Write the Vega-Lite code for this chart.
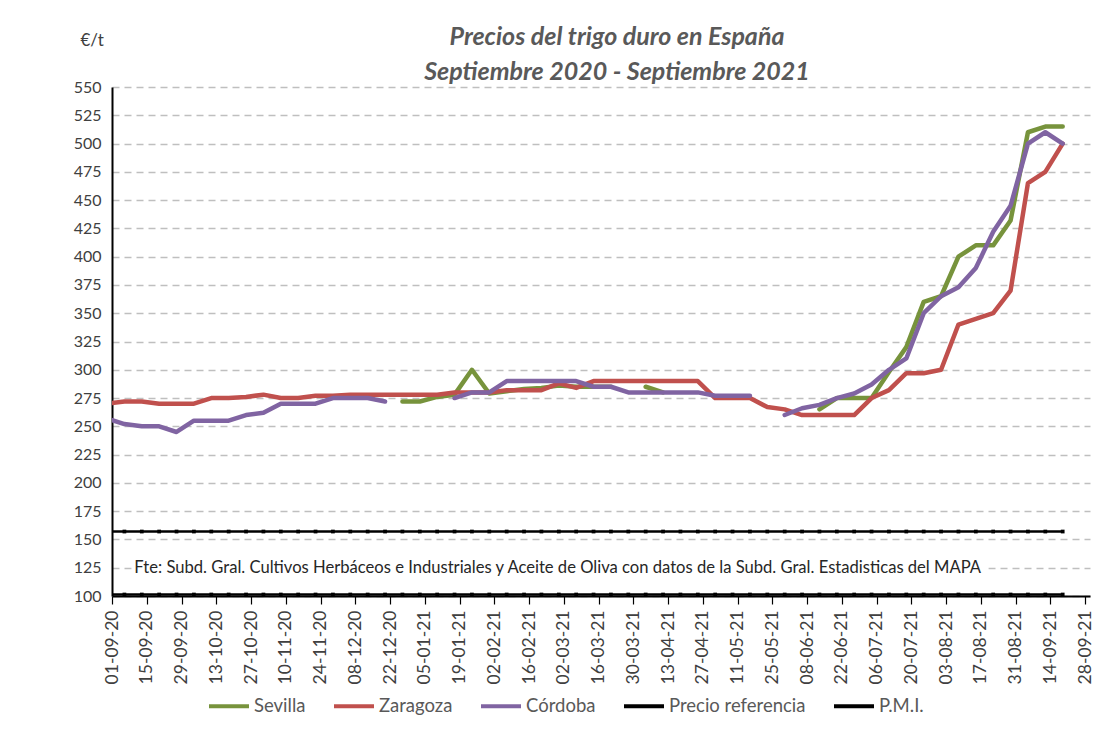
{
  "$schema": "https://vega.github.io/schema/vega-lite/v6.json",
  "autosize": "none",
  "width": 978,
  "height": 509,
  "padding": {"left": 112, "top": 87, "right": 24, "bottom": 134},
  "background": "white",
  "config": {"font": "Lato", "view": {"stroke": null}, "axis": {"labelOverlap": false, "labelSeparation": 0}, "axisX": {"labelOverlap": false}, "axisY": {"labelOverlap": false}},
  "title": {
    "text": ["Precios del trigo duro en España", "Septiembre 2020 - Septiembre 2021"],
    "fontSize": 25, "fontStyle": "italic", "fontWeight": "bold", "color": "#595959",
    "lineHeight": 35, "offset": -54, "dx": 16, "anchor": "middle", "font": "Lato"
  },
  "data": {"values": [
    {"fecha":"2020-08-30","Sevilla":null,"Zaragoza":270,"Córdoba":257,"Precio referencia":101.31,"PMI":157},
    {"fecha":"2020-09-06","Sevilla":null,"Zaragoza":272,"Córdoba":252,"Precio referencia":101.31,"PMI":157},
    {"fecha":"2020-09-13","Sevilla":null,"Zaragoza":272,"Córdoba":250,"Precio referencia":101.31,"PMI":157},
    {"fecha":"2020-09-20","Sevilla":null,"Zaragoza":270,"Córdoba":250,"Precio referencia":101.31,"PMI":157},
    {"fecha":"2020-09-27","Sevilla":null,"Zaragoza":270,"Córdoba":245,"Precio referencia":101.31,"PMI":157},
    {"fecha":"2020-10-04","Sevilla":null,"Zaragoza":270,"Córdoba":255,"Precio referencia":101.31,"PMI":157},
    {"fecha":"2020-10-11","Sevilla":null,"Zaragoza":275,"Córdoba":255,"Precio referencia":101.31,"PMI":157},
    {"fecha":"2020-10-18","Sevilla":null,"Zaragoza":275,"Córdoba":255,"Precio referencia":101.31,"PMI":157},
    {"fecha":"2020-10-25","Sevilla":null,"Zaragoza":276,"Córdoba":260,"Precio referencia":101.31,"PMI":157},
    {"fecha":"2020-11-01","Sevilla":null,"Zaragoza":278,"Córdoba":262,"Precio referencia":101.31,"PMI":157},
    {"fecha":"2020-11-08","Sevilla":null,"Zaragoza":275,"Córdoba":270,"Precio referencia":101.31,"PMI":157},
    {"fecha":"2020-11-15","Sevilla":null,"Zaragoza":275,"Córdoba":270,"Precio referencia":101.31,"PMI":157},
    {"fecha":"2020-11-22","Sevilla":null,"Zaragoza":277,"Córdoba":270,"Precio referencia":101.31,"PMI":157},
    {"fecha":"2020-11-29","Sevilla":null,"Zaragoza":277,"Córdoba":275,"Precio referencia":101.31,"PMI":157},
    {"fecha":"2020-12-06","Sevilla":null,"Zaragoza":278,"Córdoba":275,"Precio referencia":101.31,"PMI":157},
    {"fecha":"2020-12-13","Sevilla":null,"Zaragoza":278,"Córdoba":275,"Precio referencia":101.31,"PMI":157},
    {"fecha":"2020-12-20","Sevilla":null,"Zaragoza":278,"Córdoba":272,"Precio referencia":101.31,"PMI":157},
    {"fecha":"2020-12-27","Sevilla":272,"Zaragoza":278,"Córdoba":null,"Precio referencia":101.31,"PMI":157},
    {"fecha":"2021-01-03","Sevilla":272,"Zaragoza":278,"Córdoba":null,"Precio referencia":101.31,"PMI":157},
    {"fecha":"2021-01-10","Sevilla":276,"Zaragoza":278,"Córdoba":null,"Precio referencia":101.31,"PMI":157},
    {"fecha":"2021-01-17","Sevilla":278,"Zaragoza":280,"Córdoba":275,"Precio referencia":101.31,"PMI":157},
    {"fecha":"2021-01-24","Sevilla":300,"Zaragoza":280,"Córdoba":280,"Precio referencia":101.31,"PMI":157},
    {"fecha":"2021-01-31","Sevilla":279,"Zaragoza":280,"Córdoba":280,"Precio referencia":101.31,"PMI":157},
    {"fecha":"2021-02-07","Sevilla":281,"Zaragoza":282,"Córdoba":290,"Precio referencia":101.31,"PMI":157},
    {"fecha":"2021-02-14","Sevilla":283,"Zaragoza":282,"Córdoba":290,"Precio referencia":101.31,"PMI":157},
    {"fecha":"2021-02-21","Sevilla":284,"Zaragoza":282,"Córdoba":290,"Precio referencia":101.31,"PMI":157},
    {"fecha":"2021-02-28","Sevilla":286,"Zaragoza":288,"Córdoba":290,"Precio referencia":101.31,"PMI":157},
    {"fecha":"2021-03-07","Sevilla":285,"Zaragoza":284,"Córdoba":290,"Precio referencia":101.31,"PMI":157},
    {"fecha":"2021-03-14","Sevilla":285,"Zaragoza":290,"Córdoba":285,"Precio referencia":101.31,"PMI":157},
    {"fecha":"2021-03-21","Sevilla":285,"Zaragoza":290,"Córdoba":285,"Precio referencia":101.31,"PMI":157},
    {"fecha":"2021-03-28","Sevilla":null,"Zaragoza":290,"Córdoba":280,"Precio referencia":101.31,"PMI":157},
    {"fecha":"2021-04-04","Sevilla":285,"Zaragoza":290,"Córdoba":280,"Precio referencia":101.31,"PMI":157},
    {"fecha":"2021-04-11","Sevilla":280,"Zaragoza":290,"Córdoba":280,"Precio referencia":101.31,"PMI":157},
    {"fecha":"2021-04-18","Sevilla":null,"Zaragoza":290,"Córdoba":280,"Precio referencia":101.31,"PMI":157},
    {"fecha":"2021-04-25","Sevilla":null,"Zaragoza":290,"Córdoba":280,"Precio referencia":101.31,"PMI":157},
    {"fecha":"2021-05-02","Sevilla":null,"Zaragoza":275,"Córdoba":277,"Precio referencia":101.31,"PMI":157},
    {"fecha":"2021-05-09","Sevilla":null,"Zaragoza":275,"Córdoba":277,"Precio referencia":101.31,"PMI":157},
    {"fecha":"2021-05-16","Sevilla":null,"Zaragoza":275,"Córdoba":277,"Precio referencia":101.31,"PMI":157},
    {"fecha":"2021-05-23","Sevilla":null,"Zaragoza":267,"Córdoba":null,"Precio referencia":101.31,"PMI":157},
    {"fecha":"2021-05-30","Sevilla":null,"Zaragoza":265,"Córdoba":260,"Precio referencia":101.31,"PMI":157},
    {"fecha":"2021-06-06","Sevilla":null,"Zaragoza":260,"Córdoba":266,"Precio referencia":101.31,"PMI":157},
    {"fecha":"2021-06-13","Sevilla":265,"Zaragoza":260,"Córdoba":269,"Precio referencia":101.31,"PMI":157},
    {"fecha":"2021-06-20","Sevilla":275,"Zaragoza":260,"Córdoba":275,"Precio referencia":101.31,"PMI":157},
    {"fecha":"2021-06-27","Sevilla":275,"Zaragoza":260,"Córdoba":279,"Precio referencia":101.31,"PMI":157},
    {"fecha":"2021-07-04","Sevilla":275,"Zaragoza":275,"Córdoba":287,"Precio referencia":101.31,"PMI":157},
    {"fecha":"2021-07-11","Sevilla":298,"Zaragoza":282,"Córdoba":300,"Precio referencia":101.31,"PMI":157},
    {"fecha":"2021-07-18","Sevilla":320,"Zaragoza":297,"Córdoba":310,"Precio referencia":101.31,"PMI":157},
    {"fecha":"2021-07-25","Sevilla":360,"Zaragoza":297,"Córdoba":350,"Precio referencia":101.31,"PMI":157},
    {"fecha":"2021-08-01","Sevilla":365,"Zaragoza":300,"Córdoba":365,"Precio referencia":101.31,"PMI":157},
    {"fecha":"2021-08-08","Sevilla":400,"Zaragoza":340,"Córdoba":373,"Precio referencia":101.31,"PMI":157},
    {"fecha":"2021-08-15","Sevilla":410,"Zaragoza":345,"Córdoba":390,"Precio referencia":101.31,"PMI":157},
    {"fecha":"2021-08-22","Sevilla":410,"Zaragoza":350,"Córdoba":422,"Precio referencia":101.31,"PMI":157},
    {"fecha":"2021-08-29","Sevilla":432,"Zaragoza":370,"Córdoba":445,"Precio referencia":101.31,"PMI":157},
    {"fecha":"2021-09-05","Sevilla":510,"Zaragoza":465,"Córdoba":500,"Precio referencia":101.31,"PMI":157},
    {"fecha":"2021-09-12","Sevilla":515,"Zaragoza":475,"Córdoba":510,"Precio referencia":101.31,"PMI":157},
    {"fecha":"2021-09-19","Sevilla":515,"Zaragoza":500,"Córdoba":500,"Precio referencia":101.31,"PMI":157}
  ]},
  "transform": [
    {"fold": ["Sevilla", "Zaragoza", "Córdoba", "Precio referencia", "PMI"], "as": ["serie", "valor"]}
  ],
  "layer": [
    {
      "encoding": {
        "x": {
          "field": "fecha", "type": "temporal",
          "scale": {"type": "utc", "domain": [1598918400000, 1632960000000]},
          "axis": {
            "values": [1598918400000,1600128000000,1601337600000,1602547200000,1603756800000,1604966400000,1606176000000,1607385600000,1608595200000,1609804800000,1611014400000,1612224000000,1613433600000,1614643200000,1615852800000,1617062400000,1618272000000,1619481600000,1620691200000,1621900800000,1623110400000,1624320000000,1625529600000,1626739200000,1627948800000,1629158400000,1630368000000,1631577600000,1632787200000],
            "labelExpr": "utcFormat(datum.value, '%d-%m-%y')",
            "labelAngle": -90, "labelAlign": "right", "labelBaseline": "middle",
            "tickSize": 8, "tickColor": "black", "tickWidth": 1.2,
            "domainColor": "black", "domainWidth": 2,
            "grid": false, "labelFontSize": 17.5, "labelPadding": 6,
            "labelColor": "#404040", "labelOverlap": false, "labelSeparation": 0, "labelBound": false, "labelFlush": false,
            "title": null
          }
        },
        "y": {
          "field": "valor", "type": "quantitative",
          "scale": {"domain": [100, 550], "nice": false, "zero": false},
          "axis": {
            "values": [100,125,150,175,200,225,250,275,300,325,350,375,400,425,450,475,500,525,550],
            "labelOverlap": false, "labelSeparation": 0,
            "grid": true, "gridColor": "#BFBFBF", "gridDash": [7, 5], "gridWidth": 1.3,
            "domainColor": "black", "domainWidth": 2, "ticks": false,
            "labelPadding": 11, "labelFontSize": 16, "labelColor": "#404040",
            "title": "€/t", "titleAngle": 0, "titleX": -32, "titleY": -42,
            "titleAlign": "left", "titleBaseline": "alphabetic",
            "titleFontWeight": "normal", "titleFontSize": 17, "titleColor": "#404040"
          }
        }
      },
      "layer": [
        {
          "transform": [{"filter": "datum.serie == 'Precio referencia' || datum.serie == 'PMI'"}],
          "mark": {"type": "line", "strokeWidth": 2.5, "clip": true},
          "encoding": {"color": {"field": "serie", "type": "nominal"}}
        },
        {
          "transform": [{"filter": "datum.serie == 'Precio referencia' || datum.serie == 'PMI'"}],
          "mark": {"type": "point", "shape": "square", "size": 14, "filled": true, "opacity": 1, "clip": true},
          "encoding": {"color": {"field": "serie", "type": "nominal"}}
        },
        {
          "transform": [{"filter": "datum.serie == 'Sevilla'"}],
          "mark": {"type": "line", "strokeWidth": 4.5, "strokeCap": "round", "strokeJoin": "round", "clip": true, "invalid": "break-paths-filter-domains"},
          "encoding": {"color": {"field": "serie", "type": "nominal"}}
        },
        {
          "transform": [{"filter": "datum.serie == 'Zaragoza'"}],
          "mark": {"type": "line", "strokeWidth": 4.5, "strokeCap": "round", "strokeJoin": "round", "clip": true, "invalid": "break-paths-filter-domains"},
          "encoding": {"color": {"field": "serie", "type": "nominal"}}
        },
        {
          "transform": [{"filter": "datum.serie == 'Córdoba'"}],
          "mark": {"type": "line", "strokeWidth": 4.5, "strokeCap": "round", "strokeJoin": "round", "clip": true, "invalid": "break-paths-filter-domains"},
          "encoding": {
            "color": {
              "field": "serie", "type": "nominal",
              "scale": {
                "domain": ["Sevilla", "Zaragoza", "Córdoba", "Precio referencia", "PMI"],
                "range": ["#77933C", "#C0504D", "#8064A2", "#000000", "#000000"]
              },
              "legend": {
                "orient": "none", "legendX": 95, "legendY": 597, "direction": "horizontal",
                "symbolType": "stroke", "symbolSize": 1600, "symbolStrokeWidth": 4,
                "labelFontSize": 18.5, "labelColor": "#595959", "columnPadding": 20,
                "labelOffset": 3, "title": null,
                "labelExpr": "datum.label == 'PMI' ? 'P.M.I.' : datum.label"
              }
            }
          }
        }
      ]
    },
    {
      "data": {"values": [{}]},
      "mark": {"type": "rect", "fill": "white"},
      "encoding": {
        "x": {"datum": {"year": 2020, "month": 9, "date": 9, "utc": true}, "type": "temporal",
          "axis": {
            "values": [1598918400000,1600128000000,1601337600000,1602547200000,1603756800000,1604966400000,1606176000000,1607385600000,1608595200000,1609804800000,1611014400000,1612224000000,1613433600000,1614643200000,1615852800000,1617062400000,1618272000000,1619481600000,1620691200000,1621900800000,1623110400000,1624320000000,1625529600000,1626739200000,1627948800000,1629158400000,1630368000000,1631577600000,1632787200000],
            "labelExpr": "utcFormat(datum.value, '%d-%m-%y')",
            "labelAngle": -90, "labelAlign": "right", "labelBaseline": "middle",
            "tickSize": 8, "tickColor": "black", "tickWidth": 1.2,
            "domainColor": "black", "domainWidth": 2,
            "grid": false, "labelFontSize": 17.5, "labelPadding": 6,
            "labelColor": "#404040", "labelOverlap": false, "labelSeparation": 0, "labelBound": false, "labelFlush": false,
            "title": null
          }
        },
        "x2": {"datum": {"year": 2021, "month": 8, "date": 20, "utc": true}},
        "y": {"datum": 120, "type": "quantitative",
          "axis": {
            "values": [100,125,150,175,200,225,250,275,300,325,350,375,400,425,450,475,500,525,550],
            "labelOverlap": false, "labelSeparation": 0,
            "grid": true, "gridColor": "#BFBFBF", "gridDash": [7, 5], "gridWidth": 1.3,
            "domainColor": "black", "domainWidth": 2, "ticks": false,
            "labelPadding": 11, "labelFontSize": 16, "labelColor": "#404040",
            "title": "€/t", "titleAngle": 0, "titleX": -32, "titleY": -42,
            "titleAlign": "left", "titleBaseline": "alphabetic",
            "titleFontWeight": "normal", "titleFontSize": 17, "titleColor": "#404040"
          }
        },
        "y2": {"datum": 130}
      }
    },
    {
      "data": {"values": [{}]},
      "mark": {"type": "text", "align": "left", "baseline": "middle", "fontSize": 16.6, "color": "#262626",
               "text": "Fte: Subd. Gral. Cultivos Herbáceos e Industriales y Aceite de Oliva con datos de la Subd. Gral. Estadisticas del MAPA"},
      "encoding": {
        "x": {"datum": {"year": 2020, "month": 9, "date": 10, "utc": true}, "type": "temporal",
          "axis": {
            "values": [1598918400000,1600128000000,1601337600000,1602547200000,1603756800000,1604966400000,1606176000000,1607385600000,1608595200000,1609804800000,1611014400000,1612224000000,1613433600000,1614643200000,1615852800000,1617062400000,1618272000000,1619481600000,1620691200000,1621900800000,1623110400000,1624320000000,1625529600000,1626739200000,1627948800000,1629158400000,1630368000000,1631577600000,1632787200000],
            "labelExpr": "utcFormat(datum.value, '%d-%m-%y')",
            "labelAngle": -90, "labelAlign": "right", "labelBaseline": "middle",
            "tickSize": 8, "tickColor": "black", "tickWidth": 1.2,
            "domainColor": "black", "domainWidth": 2,
            "grid": false, "labelFontSize": 17.5, "labelPadding": 6,
            "labelColor": "#404040", "labelOverlap": false, "labelSeparation": 0, "labelBound": false, "labelFlush": false,
            "title": null
          }
        },
        "y": {"datum": 125, "type": "quantitative",
          "axis": {
            "values": [100,125,150,175,200,225,250,275,300,325,350,375,400,425,450,475,500,525,550],
            "labelOverlap": false, "labelSeparation": 0,
            "grid": true, "gridColor": "#BFBFBF", "gridDash": [7, 5], "gridWidth": 1.3,
            "domainColor": "black", "domainWidth": 2, "ticks": false,
            "labelPadding": 11, "labelFontSize": 16, "labelColor": "#404040",
            "title": "€/t", "titleAngle": 0, "titleX": -32, "titleY": -42,
            "titleAlign": "left", "titleBaseline": "alphabetic",
            "titleFontWeight": "normal", "titleFontSize": 17, "titleColor": "#404040"
          }
        }
      }
    }
  ]
}
